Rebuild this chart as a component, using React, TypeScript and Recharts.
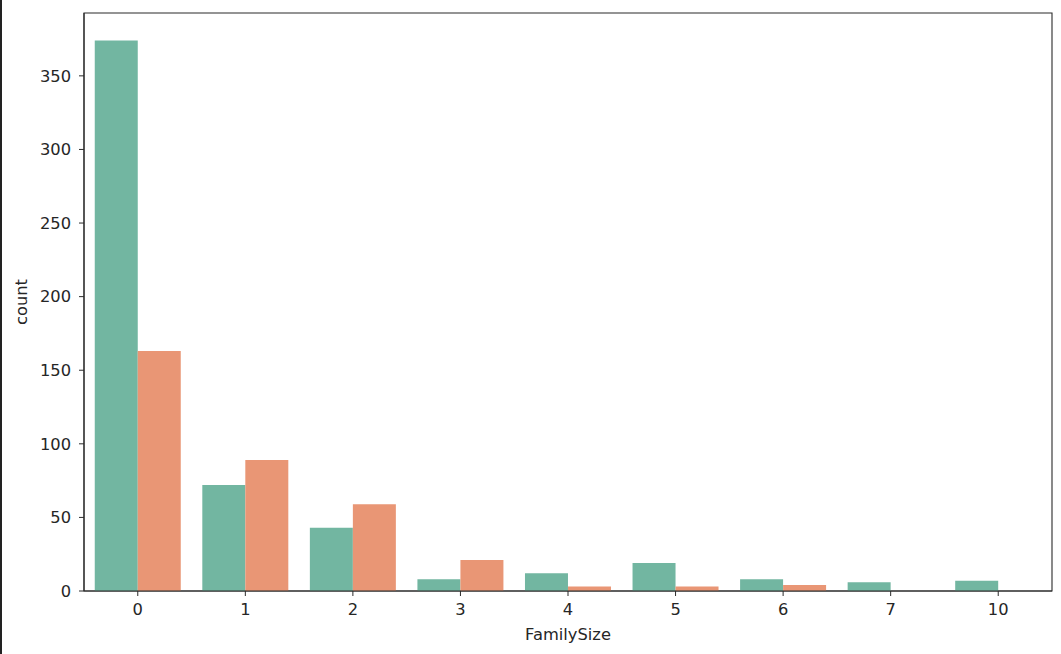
import React from "react";
import { BarChart, Bar, XAxis, YAxis, Label, ReferenceArea } from "recharts";

const categories = ["0", "1", "2", "3", "4", "5", "6", "7", "10"];
const survived0 = [374, 72, 43, 8, 12, 19, 8, 6, 7];
const survived1 = [163, 89, 59, 21, 3, 3, 4, 0, 0];
const yTicks = [0, 50, 100, 150, 200, 250, 300, 350];
const yMax = 392.7;

const data = categories.map((c, i) => ({ FamilySize: c, s0: survived0[i], s1: survived1[i] }));

const FONT = "'DejaVu Sans', sans-serif";
const TEXT = "#262626";
const AXIS = "#2b2b2b";
const FS = 16.3;

export default function App() {
  return (
    <div style={{ position: "absolute", left: 0, top: 0, width: 1061, height: 654, background: "#fff", fontFamily: FONT }}>
      <div style={{ position: "absolute", left: 0, top: 0, width: 2, height: 654, background: "#222" }} />
      <BarChart
        width={1061}
        height={654}
        data={data}
        margin={{ top: 13, right: 9, bottom: 13, left: 20 }}
        barCategoryGap="10%"
        barGap={0}
      >
        <XAxis
          dataKey="FamilySize"
          height={50}
          tickSize={5}
          tickMargin={7}
          tick={{ fill: TEXT, fontSize: FS, fontFamily: FONT }}
          axisLine={{ stroke: AXIS, strokeWidth: 1.1 }}
          tickLine={{ stroke: AXIS }}
        >
          <Label value="FamilySize" position="insideBottom" offset={1} style={{ fill: TEXT, fontSize: FS, fontFamily: FONT }} />
        </XAxis>
        <YAxis
          width={64}
          domain={[0, yMax]}
          ticks={yTicks}
          tickSize={5}
          tickMargin={8}
          allowDataOverflow
          tick={{ fill: TEXT, fontSize: FS, fontFamily: FONT }}
          axisLine={{ stroke: AXIS, strokeWidth: 1.1 }}
          tickLine={{ stroke: AXIS }}
        >
          <Label
            value="count"
            angle={-90}
            position="insideLeft"
            offset={1}
            style={{ fill: TEXT, fontSize: FS, fontFamily: FONT, textAnchor: "middle" }}
          />
        </YAxis>
        <Bar dataKey="s0" fill="#72b6a1" isAnimationActive={false} />
        <Bar dataKey="s1" fill="#e99675" isAnimationActive={false} />
        <ReferenceArea y1={0} y2={yMax} fill="none" fillOpacity={0} stroke={AXIS} strokeWidth={1.1} ifOverflow="visible" />
      </BarChart>
    </div>
  );
}
